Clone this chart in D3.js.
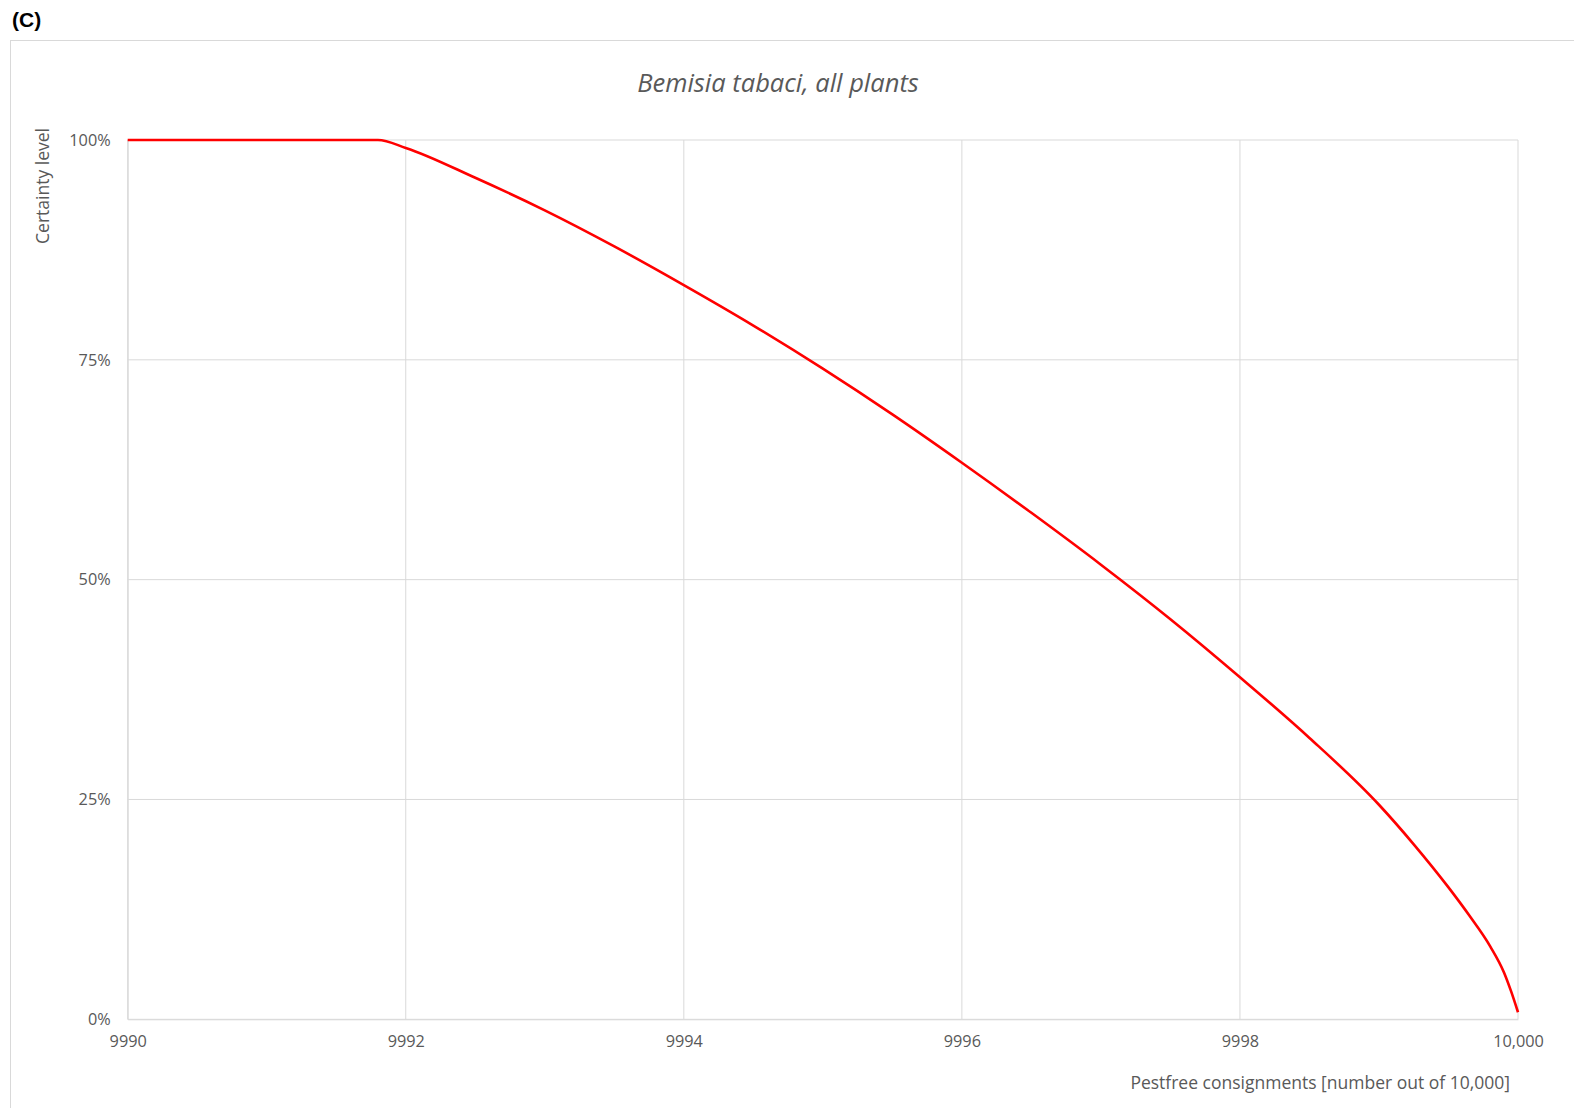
<!DOCTYPE html>
<html>
<head>
<meta charset="utf-8">
<script src="https://cdn.jsdelivr.net/npm/d3@7"></script>
<style>
  html, body { margin: 0; padding: 0; background: #fff; }
  svg { display: block; }
  text { font-family: "Open Sans", sans-serif; fill: #595959; }
</style>
</head>
<body>
<svg id="chart" width="1574" height="1108"></svg>
<script>
// ---- data ----
const panelLabel = "(C)";
const chartTitle = "Bemisia tabaci, all plants";
const yAxisTitle = "Certainty level";
const xAxisTitle = "Pestfree consignments [number out of 10,000]";

const xTicks = [9990, 9992, 9994, 9996, 9998, 10000];
const xTickLabels = ["9990", "9992", "9994", "9996", "9998", "10,000"];
const yTicks = [0, 0.25, 0.5, 0.75, 1];
const yTickLabels = ["0%", "25%", "50%", "75%", "100%"];

const pestfree = [9990, 9991, 9991.8, 9992, 9992.5, 9993, 9993.5, 9994, 9994.5, 9995, 9995.5,
                  9996, 9996.5, 9997, 9997.5, 9998, 9998.5, 9999, 9999.25, 9999.5, 9999.65,
                  9999.8, 9999.9, 9999.95, 10000];
const certainty = [1, 1, 1, 0.991, 0.957, 0.920, 0.879, 0.835, 0.789, 0.740, 0.688,
                   0.633, 0.576, 0.517, 0.455, 0.389, 0.320, 0.244, 0.199, 0.150, 0.118,
                   0.083, 0.053, 0.032, 0.008];

// ---- layout ----
const svg = d3.select("#chart");
const plot = { left: 127.7, right: 1518, top: 140, bottom: 1019.3 };

const x = d3.scaleLinear().domain([9990, 10000]).range([plot.left, plot.right]);
const y = d3.scaleLinear().domain([0, 1]).range([plot.bottom, plot.top]);

// outer frame
svg.append("rect")
  .attr("x", 10.5).attr("y", 40.5)
  .attr("width", 1600).attr("height", 1100)
  .attr("fill", "none").attr("stroke", "#d9d9d9").attr("stroke-width", 1);

// panel label
svg.append("text")
  .attr("x", 12).attr("y", 27)
  .style("font-family", "'Liberation Sans', Arial, sans-serif")
  .style("font-weight", "bold").style("font-size", "21px")
  .style("fill", "#000")
  .text(panelLabel);

// title
svg.append("text")
  .attr("x", 778).attr("y", 92)
  .attr("text-anchor", "middle")
  .style("font-style", "italic").style("font-size", "25.5px")
  .text(chartTitle);

// gridlines
const grid = svg.append("g");
grid.selectAll("line.v").data(xTicks).join("line")
  .attr("class", "v")
  .attr("x1", d => x(d)).attr("x2", d => x(d))
  .attr("y1", plot.top).attr("y2", plot.bottom)
  .attr("stroke", "#d9d9d9").attr("stroke-width", 1);
grid.selectAll("line.h").data(yTicks).join("line")
  .attr("class", "h")
  .attr("x1", plot.left).attr("x2", plot.right)
  .attr("y1", d => y(d)).attr("y2", d => y(d))
  .attr("stroke", "#d9d9d9").attr("stroke-width", 1);

// axes (labels only)
const xAxis = d3.axisBottom(x)
  .tickValues(xTicks)
  .tickFormat((d, i) => xTickLabels[i])
  .tickSize(0).tickPadding(16);
const gx = svg.append("g").attr("transform", `translate(0,${plot.bottom})`).call(xAxis);
gx.select(".domain").attr("stroke", "#d9d9d9");
gx.selectAll("text").style("font-size", "16.3px").style("fill", "#595959")
  .style("font-family", "'Open Sans', sans-serif");

const yAxis = d3.axisLeft(y)
  .tickValues(yTicks)
  .tickFormat((d, i) => yTickLabels[i])
  .tickSize(0).tickPadding(17);
const gy = svg.append("g").attr("transform", `translate(${plot.left},0)`).call(yAxis);
gy.select(".domain").attr("stroke", "#d9d9d9");
gy.selectAll("text").style("font-size", "16.3px").style("fill", "#595959")
  .style("font-family", "'Open Sans', sans-serif");

// axis titles
svg.append("text")
  .attr("transform", "translate(49,186) rotate(-90)")
  .attr("text-anchor", "middle")
  .style("font-size", "17.5px")
  .text(yAxisTitle);

svg.append("text")
  .attr("x", 1510).attr("y", 1089)
  .attr("text-anchor", "end")
  .style("font-size", "17.5px")
  .text(xAxisTitle);

// line
const pts = pestfree.map((v, i) => [v, certainty[i]]);
const line = d3.line()
  .x(d => x(d[0])).y(d => y(d[1]))
  .curve(d3.curveMonotoneX);
svg.append("path")
  .datum(pts)
  .attr("d", line)
  .attr("fill", "none")
  .attr("stroke", "#ff0000")
  .attr("stroke-width", 2.6)
  .attr("stroke-linejoin", "round");
</script>
</body>
</html>
